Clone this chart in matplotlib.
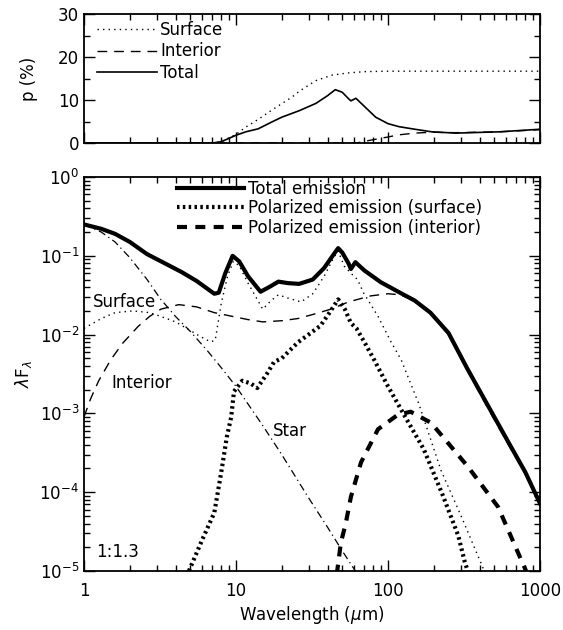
import matplotlib
matplotlib.use("Agg")
import matplotlib.pyplot as plt
from matplotlib.ticker import LogLocator, MultipleLocator, NullFormatter

plt.rcParams["font.family"] = ["DejaVu Sans"]
plt.rcParams["font.size"] = 12

# ---- top panel: polarization fraction p (%) ----
p_surface_wl = [1, 7, 8, 10, 11.6, 14, 17.3, 23.4, 26, 33.5, 43, 55, 71, 100, 1000]
p_surface = [0, 0, 0.3, 2, 3.7, 5.5, 7.7, 10.7, 12, 14.5, 15.8, 16.3, 16.6, 16.7, 16.7]

p_interior_wl = [1, 60, 64, 78, 100, 118, 150, 194, 280, 540, 1000]
p_interior = [0, 0, 0.1, 0.7, 1.4, 1.9, 2.3, 2.5, 2.4, 2.6, 3.1]

p_total_wl = [1, 7, 8, 10, 11.6, 14, 17, 20, 26, 33.5, 40, 45, 50, 55, 57, 61.5,
              70, 83, 100, 118, 150, 194, 280, 540, 1000]
p_total = [0, 0, 0.3, 1.8, 2.6, 3.3, 4.8, 6, 7.5, 9.2, 11, 12.4, 11.8, 10.3, 9.8, 10.4,
           8.5, 6, 4.5, 3.8, 3.2, 2.6, 2.3, 2.6, 3.2]

top_legend = ["Surface", "Interior", "Total"]

# ---- bottom panel: SED lambda F_lambda ----
total_wl = [1.0, 1.3, 1.6, 2.0, 2.6, 3.5, 4.4, 5.5, 7.2, 7.7, 8.5, 9.5, 10.5, 12.0,
            14.5, 16.5, 19.0, 22.0, 26.0, 32.0, 38.0, 44.0, 47.0, 50.0, 55.0, 57.0,
            61.0, 70.0, 90.0, 120.0, 150.0, 190.0, 250.0, 330.0, 450.0, 620.0, 800.0, 1000.0]
total_f = [0.25, 0.22, 0.19, 0.15, 0.105, 0.078, 0.062, 0.048, 0.033, 0.034, 0.06, 0.10,
           0.085, 0.055, 0.035, 0.04, 0.047, 0.045, 0.044, 0.05, 0.07, 0.105, 0.125, 0.11,
           0.08, 0.068, 0.083, 0.065, 0.046, 0.034, 0.027, 0.019, 0.0105, 0.0038, 0.0013,
           4.3e-4, 1.8e-4, 7.2e-5]

star_wl = [1.0, 1.3, 1.6, 2.0, 2.6, 3.2, 4.0, 5.0, 6.5, 8.0, 10, 15, 20, 30, 40, 50, 60, 65]
star_f = [0.25, 0.2, 0.15, 0.095, 0.05, 0.028, 0.017, 0.011, 0.0062, 0.0038, 0.0022,
          7e-4, 3e-4, 8.5e-5, 3.6e-5, 1.8e-5, 1.05e-5, 8e-6]

surf_wl = [1, 1.3, 1.6, 2.1, 2.7, 3.2, 4.0, 4.8, 5.8, 6.8, 7.3, 8.0, 8.8, 9.6, 10.5, 12,
           15, 17, 19, 22, 26.8, 32, 38, 44, 47, 51.5, 57, 63, 69, 86, 105, 122, 160,
           223, 300, 430]
surf_f = [0.012, 0.016, 0.019, 0.02, 0.019, 0.017, 0.0145, 0.0118, 0.0095, 0.0081,
          0.0085, 0.025, 0.055, 0.085, 0.075, 0.045, 0.021, 0.027, 0.032, 0.029, 0.026,
          0.033, 0.055, 0.095, 0.115, 0.074, 0.06, 0.05, 0.034, 0.017, 0.008, 0.0048,
          0.0013, 1.9e-4, 5.2e-5, 1.0e-5]

int_wl = [1.0, 1.1, 1.25, 1.5, 1.8, 2.27, 2.7, 3.2, 4.2, 5.5, 7.2, 9.5, 12, 15, 20, 25.6,
          32, 42, 55, 77, 100, 120, 150, 190, 250, 330, 450, 620, 800, 1000]
int_f = [9e-4, 1.5e-3, 2.6e-3, 4.8e-3, 7.8e-3, 1.27e-2, 1.7e-2, 2.1e-2, 2.4e-2, 2.25e-2,
         1.9e-2, 1.7e-2, 1.55e-2, 1.45e-2, 1.5e-2, 1.6e-2, 1.8e-2, 2.1e-2, 2.6e-2,
         3.1e-2, 3.3e-2, 3.2e-2, 2.7e-2, 1.85e-2, 1.0e-2, 3.6e-3, 1.2e-3, 4e-4, 1.7e-4, 7e-5]

pol_surf_wl = [4.9, 6.0, 7.2, 8.0, 8.7, 9.3, 9.7, 11, 12.5, 13.8, 16, 17.8, 20, 25.6, 30,
               36, 42, 47, 52, 57, 62, 70, 81, 100, 130, 172, 230, 290, 320, 335]
pol_surf_f = [1e-5, 2.5e-5, 5.5e-5, 1.8e-4, 5e-4, 9e-4, 1.9e-3, 2.6e-3, 2.4e-3, 2.1e-3,
              3.2e-3, 4.5e-3, 5e-3, 8e-3, 1e-2, 1.3e-2, 2e-2, 2.8e-2, 2.1e-2, 1.4e-2,
              1.2e-2, 8e-3, 4.8e-3, 2.2e-3, 9e-4, 3.5e-4, 9e-5, 2.8e-5, 1.3e-5, 1e-5]

pol_int_wl = [46, 49, 52.7, 57, 66.5, 86, 116, 141, 192, 336, 530, 750, 810]
pol_int_f = [9e-6, 2.3e-5, 4e-5, 8.7e-5, 2.4e-4, 6.3e-4, 9.6e-4, 1.05e-3, 7.6e-4,
             2.1e-4, 6.5e-5, 1.4e-5, 1e-5]

bottom_legend = ["Total emission", "Polarized emission (surface)",
                 "Polarized emission (interior)"]
xtick_vals = [1, 10, 100, 1000]
xtick_labels = ["1", "10", "100", "1000"]


def style_axes(ax):
    ax.tick_params(which="both", direction="in", top=True, right=True, width=1)
    ax.tick_params(which="major", length=8)
    ax.tick_params(which="minor", length=4)
    for sp in ax.spines.values():
        sp.set_linewidth(1.3)


fig = plt.figure(figsize=(5.63, 6.30), dpi=100)
W, H = 563.0, 630.0
ax_top = fig.add_axes([84 / W, 1 - 143 / H, 456 / W, 129 / H])
ax = fig.add_axes([84 / W, 1 - 571 / H, 456 / W, 394 / H])

# top panel
l1, = ax_top.plot(p_surface_wl, p_surface, color="k", lw=1, ls=(0, (1, 3)))
l2, = ax_top.plot(p_interior_wl, p_interior, color="k", lw=1, ls=(0, (7, 5)))
l3, = ax_top.plot(p_total_wl, p_total, color="k", lw=1.2, ls="-")
ax_top.set_xscale("log")
ax_top.set_xlim(1, 1000)
ax_top.set_ylim(0, 30)
ax_top.yaxis.set_major_locator(MultipleLocator(10))
ax_top.yaxis.set_minor_locator(MultipleLocator(5))
ax_top.xaxis.set_minor_locator(LogLocator(subs=range(2, 10)))
ax_top.xaxis.set_major_formatter(NullFormatter())
ax_top.xaxis.set_minor_formatter(NullFormatter())
ax_top.set_ylabel("p (%)")
ax_top.yaxis.set_label_coords(-0.1, 0.5)
style_axes(ax_top)
ax_top.legend([l1, l2, l3], top_legend, loc="upper left",
              bbox_to_anchor=(97 / W, 1 - 21 / H), bbox_transform=fig.transFigure,
              frameon=False, borderpad=0, borderaxespad=0, handlelength=3.6,
              handletextpad=0.2, labelspacing=0.2, fontsize=12)

# bottom panel
b1, = ax.plot(total_wl, total_f, color="k", lw=3, ls="-")
ax.plot(star_wl, star_f, color="k", lw=0.9, ls=(0, (6, 3, 1, 3)))
ax.plot(surf_wl, surf_f, color="k", lw=1, ls=(0, (1, 3)))
ax.plot(int_wl, int_f, color="k", lw=1, ls=(0, (7, 5)))
b2, = ax.plot(pol_surf_wl, pol_surf_f, color="k", lw=3, ls=(0, (0.6, 0.8)))
b3, = ax.plot(pol_int_wl, pol_int_f, color="k", lw=3, ls=(0, (2.4, 2)))
ax.set_xscale("log")
ax.set_yscale("log")
ax.set_xlim(1, 1000)
ax.set_ylim(1e-5, 1)
ax.set_xticks(xtick_vals, labels=xtick_labels)
ax.xaxis.set_minor_locator(LogLocator(subs=range(2, 10)))
ax.xaxis.set_minor_formatter(NullFormatter())
ax.yaxis.set_minor_locator(LogLocator(subs=range(2, 10), numticks=20))
ax.yaxis.set_minor_formatter(NullFormatter())
ax.set_xlabel(r"Wavelength ($\mu$m)")
ax.xaxis.set_label_coords(0.5, -0.085)
ax.set_ylabel(r"$\lambda$F$_\lambda$")
ax.yaxis.set_label_coords(-0.11, 0.5)
ax.tick_params(axis="x", pad=8)
style_axes(ax)

ax.text(1.146, 0.0257, "Surface", va="center", ha="left")
ax.text(1.505, 0.00246, "Interior", va="center", ha="left")
ax.text(17.5, 5.9e-4, "Star", va="center", ha="left")
ax.text(1.2, 1.74e-5, "1:1.3", va="center", ha="left")

ax.legend([b1, b2, b3], bottom_legend, loc="upper left",
          bbox_to_anchor=(177 / W, 1 - 180 / H), bbox_transform=fig.transFigure,
          frameon=False, borderpad=0, borderaxespad=0, handlelength=4.0,
          handletextpad=0.25, labelspacing=0.08, fontsize=12)

fig.savefig("out.png", dpi=100)
